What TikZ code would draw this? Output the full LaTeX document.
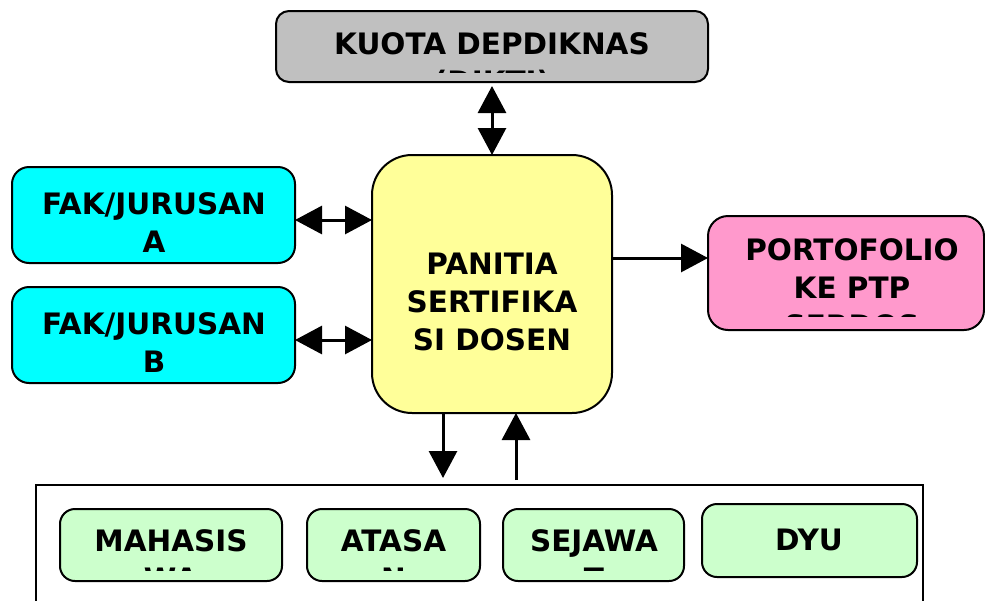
\documentclass[tikz,border=0pt]{standalone}
\usepackage{fontspec}
\setmainfont{DejaVu Sans}
\usetikzlibrary{arrows.meta}
\definecolor{cgray}{HTML}{C0C0C0}
\definecolor{cyellow}{HTML}{FFFF99}
\definecolor{ccyan}{HTML}{00FFFF}
\definecolor{cpink}{HTML}{FF99CC}
\definecolor{cgreen}{HTML}{CCFFCC}
\begin{document}
\begin{tikzpicture}[x=1pt,y=-1pt,
  box/.style={draw=black, line width=2pt, inner sep=0pt, outer sep=0pt},
  lbl/.style={font=\bfseries\fontsize{29.5}{38}\selectfont, align=center, inner sep=0pt, anchor=north},
  tip/.tip={Triangle[width=28pt,length=27pt]},
  conn/.style={line width=3pt, -tip},
  dconn/.style={line width=3pt, tip-tip},
]
\useasboundingbox (0,0) rectangle (985,600);

% boxes
\node[box, fill=cgray, rounded corners=13pt, minimum width=432pt, minimum height=71pt] (kuota) at (492,46.5) {};
\node[box, fill=cyellow, rounded corners=40pt, minimum width=240pt, minimum height=258pt] (panitia) at (492,284) {};
\node[box, fill=ccyan, rounded corners=17pt, minimum width=283pt, minimum height=96pt] (fakA) at (153.5,215) {};
\node[box, fill=ccyan, rounded corners=17pt, minimum width=283pt, minimum height=96pt] (fakB) at (153.5,335) {};
\node[box, fill=cpink, rounded corners=20pt, minimum width=276pt, minimum height=114pt] (porto) at (846,273) {};
\node[box, anchor=north west, minimum width=887pt, minimum height=140pt] (grp) at (36,485) {};
\node[box, fill=cgreen, rounded corners=15pt, minimum width=222pt, minimum height=72pt] (mhs) at (171,545) {};
\node[box, fill=cgreen, rounded corners=15pt, minimum width=173pt, minimum height=72pt] (atasan) at (393.5,545) {};
\node[box, fill=cgreen, rounded corners=15pt, minimum width=181pt, minimum height=72pt] (sejawat) at (593.5,545) {};
\node[box, fill=cgreen, rounded corners=15pt, minimum width=215pt, minimum height=73pt] (dyu) at (809.5,540.5) {};

% texts
\begin{scope}
\clip (kuota.north west) rectangle ([yshift=10pt]kuota.south east);
\node[lbl] (kuota-t) at (492,32) {KUOTA DEPDIKNAS\\(DIKTI)};
\end{scope}
\node[lbl] (panitia-t) at (492,253) {PANITIA\\SERTIFIKA\\SI DOSEN};
\node[lbl] (fakA-t) at (154,192) {FAK/JURUSAN\\A};
\node[lbl] (fakB-t) at (154,312) {FAK/JURUSAN\\B};
\begin{scope}
\clip (porto.north west) rectangle ([yshift=14pt]porto.south east);
\node[lbl] (porto-t) at (852,238) {PORTOFOLIO\\KE PTP\\SERDOS};
\end{scope}
\begin{scope}
\clip (mhs.north west) rectangle ([yshift=11pt]sejawat.south east);
\node[lbl] (mhs-t) at (171,529) {MAHASIS\\WA};
\node[lbl] (atasan-t) at (393.5,529) {ATASA\\N};
\node[lbl] (sejawat-t) at (594,529) {SEJAWA\\T};
\end{scope}
\node[lbl] (dyu-t) at (809,529) {DYU};

% connectors
\draw[dconn, shorten <=4pt] (kuota.south) -- (panitia.north);
\coordinate (ya) at (0,220);
\coordinate (yb) at (0,340);
\coordinate (yp) at (0,258);
\draw[dconn] (fakA.east |- ya) -- (panitia.west |- ya);
\draw[dconn] (fakB.east |- yb) -- (panitia.west |- yb);
\draw[conn] (panitia.east |- yp) -- (porto.west |- yp);
\coordinate (xd) at (443,0);
\coordinate (xu) at (516,0);
\coordinate (gd) at ([yshift=7pt]grp.north);
\coordinate (gu) at ([yshift=5pt]grp.north);
\draw[conn] (panitia.south -| xd) -- (gd -| xd);
\draw[conn] (gu -| xu) -- (panitia.south -| xu);
\end{tikzpicture}
\end{document}
